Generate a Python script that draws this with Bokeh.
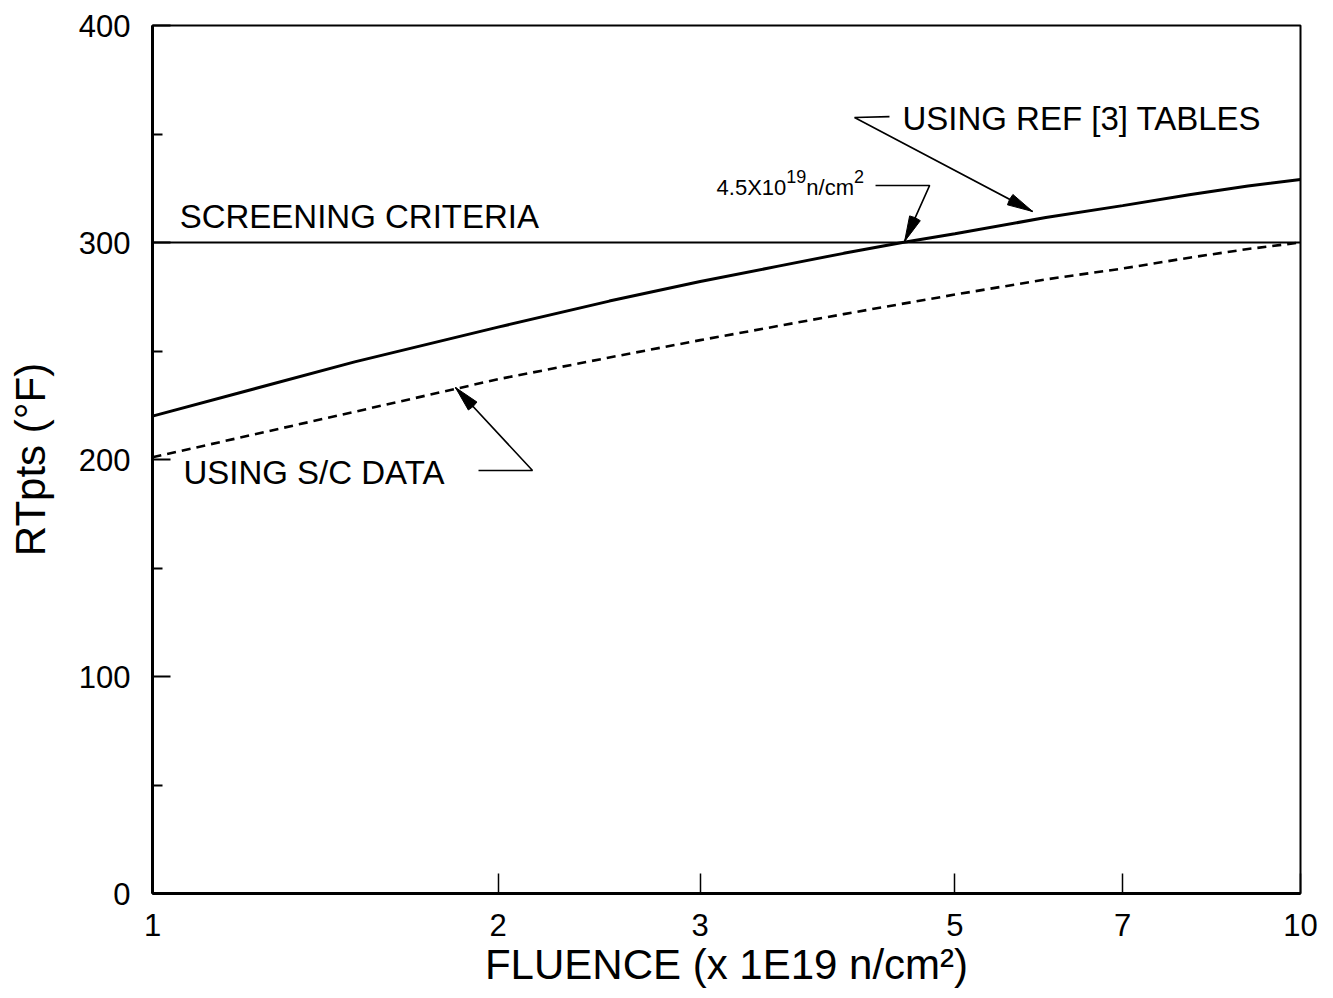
import math
from bokeh.plotting import figure
from bokeh.models import Range1d, FixedTicker, BasicTickFormatter, Span, ColumnDataSource
from bokeh.core.properties import value
from bokeh.embed import file_html
from bokeh.resources import INLINE

# ---- data ----
ref3_fluence = [1, 1.5, 2, 2.5, 3, 3.5, 4, 4.5, 5, 6, 7, 8, 9, 10]
ref3_rtpts = [220, 245, 261, 273, 282, 289, 295, 300, 304, 311.5, 317, 322, 326, 329]
sc_fluence = [1, 1.5, 2, 2.5, 3, 4, 5, 6, 7, 8, 9, 10]
sc_rtpts = [201, 222, 237, 247, 255, 267, 276, 283, 288, 293, 297, 300]
screening = 300
x_ticks = [1, 2, 3, 5, 7, 10]
y_ticks = [0, 100, 200, 300, 400]
y_minor = [50, 150, 250, 350]

# ---- annotation text and anchor positions (data coords, vertical middle of caps) ----
label_screen = ("SCREENING CRITERIA", 1.056, 312)
label_ref = ("USING REF [3] TABLES", 4.50, 357)
label_sc = ("USING S/C DATA", 1.064, 194)
flu_anchor = (3.10, 325.5)
flu_pieces = ["4.5X10", "19", "n/cm", "2"]
# leader lines: last point is the arrow tip
leader_ref = [(4.385, 358.0), (4.088, 357.6), (5.843, 314.3)]
leader_flu = [(4.264, 326.3), (4.753, 326.3), (4.52, 300.5)]
leader_sc = [(1.923, 194.9), (2.143, 194.9), (1.836, 233.2)]

FW, FH = 1148, 868
X0, X1, Y0, Y1 = 1, 10, 0, 400
FONT = "Liberation Sans"

p = figure(x_axis_type="log", x_range=Range1d(X0, X1), y_range=Range1d(Y0, Y1),
           frame_width=FW, frame_height=FH,
           min_border_left=152, min_border_right=25, min_border_top=25, min_border_bottom=97,
           output_backend="svg", toolbar_location=None, background_fill_color="white",
           border_fill_color="white")
p.grid.visible = False
p.outline_line_color = "black"
p.outline_line_width = 2

xa = p.xaxis[0]
xa.ticker = FixedTicker(ticks=x_ticks, minor_ticks=[])
xa.formatter = BasicTickFormatter()
xa.axis_label = "FLUENCE (x 1E19 n/cm²)"
ya = p.yaxis[0]
ya.ticker = FixedTicker(ticks=y_ticks, minor_ticks=y_minor)
ya.axis_label = "RTpts (°F)"

for ax in (xa, ya):
    ax.axis_line_color = "black"
    ax.axis_line_width = 3
    ax.major_tick_out = 0
    ax.minor_tick_out = 0
    ax.major_tick_line_color = "black"
    ax.minor_tick_line_color = "black"
    ax.major_label_text_font = FONT
    ax.major_label_text_font_size = "31px"
    ax.major_label_text_color = "black"
    ax.axis_label_text_font = FONT
    ax.axis_label_text_font_style = "normal"
    ax.axis_label_text_font_size = "42px"
    ax.axis_label_text_color = "black"

xa.major_tick_in = 20
xa.minor_tick_in = 0
xa.major_tick_line_width = 1.5
xa.major_label_standoff = 20
xa.axis_label_standoff = 2
ya.major_tick_in = 18
ya.minor_tick_in = 10
ya.major_tick_line_width = 2
ya.minor_tick_line_width = 2
ya.major_label_standoff = 22
ya.axis_label_standoff = 22

# screening criteria line
p.add_layout(Span(location=screening, dimension="width", line_color="black", line_width=2))

# curves
p.line(ref3_fluence, ref3_rtpts, line_color="black", line_width=3)
p.line(sc_fluence, sc_rtpts, line_color="black", line_width=2.6, line_dash="9 6")

# labels
for txt, x, y in (label_screen, label_ref, label_sc):
    p.text(x=[x], y=[y], text=[txt], text_font=value(FONT), text_font_size=value("33px"),
           text_color="black", text_align="left", text_baseline="middle")

# fluence label with superscripts
sizes = [22, 18, 22, 18]
offs_y = [0, -11, 0, -11]
wfac = [3.169, 1.112, 2.167, 0.556]
offs_x = []
acc = 0
for s, w in zip(sizes, wfac):
    offs_x.append(acc)
    acc += s * w
src = ColumnDataSource(dict(x=[flu_anchor[0]] * 4, y=[flu_anchor[1]] * 4, t=flu_pieces,
                            xo=offs_x, yo=offs_y, fs=[f"{s}px" for s in sizes]))
p.text(x="x", y="y", text="t", x_offset="xo", y_offset="yo", text_font_size="fs",
       text_font=value(FONT), text_color="black", text_align="left",
       text_baseline="middle", source=src)


def to_px(x, y):
    return (math.log10(x) - math.log10(X0)) / (math.log10(X1) - math.log10(X0)) * FW, \
           (y - Y0) / (Y1 - Y0) * FH


for leader in (leader_ref, leader_flu, leader_sc):
    xs = [pt[0] for pt in leader]
    ys = [pt[1] for pt in leader]
    p.line(xs, ys, line_color="black", line_width=1.6)
    tx, ty = to_px(*leader[-1])
    bx, by = to_px(*leader[-2])
    ang = math.atan2(by - ty, bx - tx)
    half = math.radians(13)
    p.wedge(x=[leader[-1][0]], y=[leader[-1][1]], radius=26, radius_units="screen",
            start_angle=ang - half, end_angle=ang + half,
            fill_color="black", line_color="black", line_width=1)

open("out.html", "w").write(file_html(p, INLINE))
